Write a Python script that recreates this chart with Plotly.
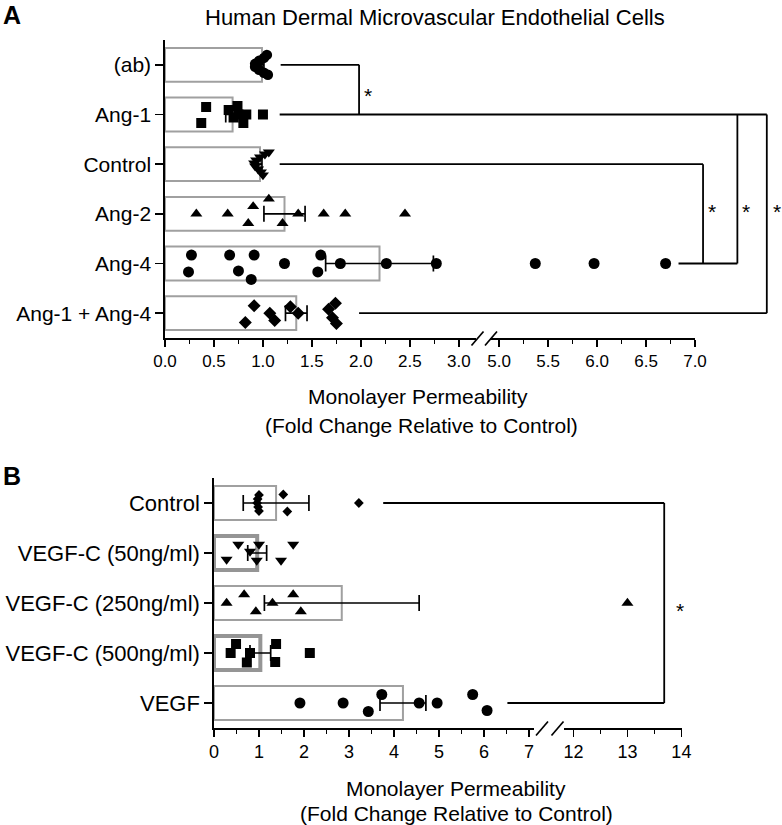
import plotly.graph_objects as go

W, H = 782, 825
FONT = "Liberation Sans, Arial, Helvetica, sans-serif"

# ---------------- Panel A data ----------------
a_categories = ["(ab)", "Ang-1", "Control", "Ang-2", "Ang-4", "Ang-1 + Ang-4"]
a_means = [0.99, 0.69, 0.97, 1.22, 2.19, 1.34]
a_sems = [0.02, 0.07, 0.02, 0.21, 0.55, 0.11]
a_symbols = ["circle", "square", "triangle-down", "triangle-up", "circle", "diamond"]

a_ab_vals = [1.04, 1.01, 0.96, 0.92, 0.92, 0.96, 1.01, 1.05]
a_ab_offs = [-0.20, -0.14, -0.08, -0.02, 0.04, 0.10, 0.16, 0.20]
a_ang1_vals = [0.42, 0.37, 0.65, 0.74, 0.70, 0.80, 0.83, 1.00, 0.75]
a_ang1_offs = [-0.15, 0.17, -0.09, -0.17, 0.06, 0.17, 0.00, 0.00, 0.00]
a_ctrl_vals = [1.06, 1.02, 0.97, 0.93, 0.91, 0.92, 0.95, 0.98, 1.00]
a_ctrl_offs = [-0.24, -0.20, -0.14, -0.08, -0.02, 0.04, 0.10, 0.16, 0.22]
a_ang2_vals = [0.32, 0.64, 0.90, 0.85, 1.06, 1.20, 1.36, 1.62, 1.84, 2.45]
a_ang2_offs = [0.00, 0.00, -0.15, 0.19, -0.30, 0.19, 0.00, 0.00, 0.00, 0.00]
a_ang4_vals = [0.27, 0.24, 0.66, 0.75, 0.91, 0.88, 1.22, 1.59, 1.56, 1.79, 2.26, 2.77, 5.37, 5.97, 6.70]
a_ang4_offs = [-0.17, 0.17, -0.17, 0.15, -0.17, 0.32, 0.00, -0.17, 0.17, 0.00, 0.00, 0.00, 0.00, 0.00, 0.00]
a_combo_vals = [0.91, 0.82, 1.07, 1.12, 1.28, 1.36, 1.67, 1.74, 1.71, 1.75]
a_combo_offs = [-0.15, 0.19, 0.00, 0.15, -0.13, 0.00, -0.08, -0.20, 0.09, 0.21]

a_points = [(a_ab_vals, a_ab_offs), (a_ang1_vals, a_ang1_offs), (a_ctrl_vals, a_ctrl_offs),
            (a_ang2_vals, a_ang2_offs), (a_ang4_vals, a_ang4_offs), (a_combo_vals, a_combo_offs)]

a_left_ticks = [0.0, 0.5, 1.0, 1.5, 2.0, 2.5, 3.0]
a_right_ticks = [5.0, 5.5, 6.0, 6.5, 7.0]

# ---------------- Panel B data ----------------
b_categories = ["Control", "VEGF-C (50ng/ml)", "VEGF-C (250ng/ml)", "VEGF-C (500ng/ml)", "VEGF"]
b_means = [1.38, 0.96, 2.84, 1.03, 4.20]
b_sems = [0.73, 0.21, 1.72, 0.23, 0.51]
b_symbols = ["diamond", "triangle-down", "triangle-up", "square", "circle"]

b_ctrl_vals = [1.00, 0.97, 0.96, 0.98, 1.00, 1.54, 1.63, 3.22]
b_ctrl_offs = [-0.16, -0.08, 0.00, 0.08, 0.16, -0.17, 0.17, 0.00]
b_c50_vals = [0.54, 0.28, 0.80, 1.00, 0.95, 1.49, 1.76]
b_c50_offs = [-0.17, 0.13, -0.03, -0.17, 0.15, 0.15, -0.17]
b_c250_vals = [0.28, 0.67, 0.93, 1.30, 1.76, 1.93, 13.0]
b_c250_offs = [0.00, -0.17, 0.17, 0.00, -0.17, 0.17, 0.00]
b_c500_vals = [0.49, 0.37, 0.80, 0.73, 1.38, 1.36, 2.13]
b_c500_offs = [-0.18, 0.00, 0.00, 0.19, -0.18, 0.18, 0.00]
b_vegf_vals = [1.91, 2.87, 3.43, 3.73, 4.56, 4.96, 5.75, 6.07]
b_vegf_offs = [0.00, 0.00, 0.17, -0.17, 0.00, 0.00, -0.17, 0.15]

b_points = [(b_ctrl_vals, b_ctrl_offs), (b_c50_vals, b_c50_offs), (b_c250_vals, b_c250_offs),
            (b_c500_vals, b_c500_offs), (b_vegf_vals, b_vegf_offs)]

b_left_ticks = [0, 1, 2, 3, 4, 5, 6, 7]
b_right_ticks = [12, 13, 14]

# significance brackets: (axis0, x0, axis1, x1, cat0, cat1)
a_brackets = [("x", 1.18, "x", 1.98, 0, 0), ("x", 1.98, "x", 1.98, 0, 1),
              ("x", 1.17, "x2", 7.73, 1, 1), ("x", 1.17, "x2", 7.08, 2, 2),
              ("x2", 7.08, "x2", 7.08, 2, 4), ("x2", 6.83, "x2", 7.43, 4, 4),
              ("x2", 7.43, "x2", 7.43, 1, 4), ("x", 1.98, "x2", 7.73, 5, 5),
              ("x2", 7.73, "x2", 7.73, 1, 5)]
a_stars = [("x", 2.07, 0.52), ("x2", 7.17, 2.86), ("x2", 7.52, 2.86), ("x2", 7.83, 2.86)]
b_brackets = [("x3", 3.76, "x4", 13.68, 0, 0), ("x3", 6.52, "x4", 13.68, 4, 4),
              ("x4", 13.68, "x4", 13.68, 0, 4)]
b_stars = [("x4", 13.98, 2.05)]

# ---------------- layout geometry (pixels) ----------------
AX = {
    "x": dict(domain=[165 / W, 475.7 / W], range=[0, 3.17]),
    "x2": dict(domain=[490.2 / W, 695.2 / W], range=[4.91, 7.0]),
    "x3": dict(domain=[214 / W, 533.5 / W], range=[0, 7.1]),
    "x4": dict(domain=[564.3 / W, 681.5 / W], range=[11.83, 14.0]),
}
Y_A = dict(domain=[1 - 338 / H, 1 - 40 / H], range=[5.5, -0.5])
Y_B = dict(domain=[1 - 728 / H, 1 - 478 / H], range=[4.5, -0.5])


def xp(ax, v):
    d, r = AX[ax]["domain"], AX[ax]["range"]
    return d[0] + (v - r[0]) / (r[1] - r[0]) * (d[1] - d[0])


fig = go.Figure()


def add_panel(cats, means, sems, symbols, points, xl, xr, yref, sizes, bar_lines):
    yname = "y" if yref == "y" else "y2"
    n = len(cats)
    idx = list(range(n))
    fig.add_trace(go.Bar(
        x=means, y=idx, orientation="h", width=0.68, base=0,
        marker=dict(color="white", line=dict(color=[c for c, w in bar_lines], width=[w for c, w in bar_lines])),
        xaxis=xl, yaxis=yname, hoverinfo="skip"))
    lim = AX[xl]["range"][1]
    for i, (vals, offs) in enumerate(points):
        for side, ax in (("L", xl), ("R", xr)):
            xs = [v for v in vals if (v <= lim) == (side == "L")]
            ys = [i + o for v, o in zip(vals, offs) if (v <= lim) == (side == "L")]
            if not xs:
                continue
            fig.add_trace(go.Scatter(
                x=xs, y=ys, mode="markers", xaxis=ax, yaxis=yname,
                marker=dict(symbol=symbols[i], size=sizes[i], color="black", line=dict(width=0)),
                hoverinfo="skip"))
    fig.add_trace(go.Scatter(
        x=means, y=idx, mode="markers", xaxis=xl, yaxis=yname,
        marker=dict(size=2, color="rgba(0,0,0,0)"),
        error_x=dict(type="data", array=sems, color="black", thickness=1.7, width=8),
        hoverinfo="skip"))


add_panel(a_categories, a_means, a_sems, a_symbols, a_points, "x", "x2", "y",
          [10.5, 10, 10.5, 10.5, 11, 10], [("#a0a0a0", 2)] * 6)
add_panel(b_categories, b_means, b_sems, b_symbols, b_points, "x3", "x4", "y2",
          [7.5, 10.5, 10.5, 10, 11],
          [("#a0a0a0", 2), ("#959595", 4), ("#a0a0a0", 2), ("#959595", 4), ("#a0a0a0", 2)])

shapes = []
annotations = []
LINE = dict(color="black", width=1.8)
for brs, yref in ((a_brackets, "y"), (b_brackets, "y2")):
    for a0, x0, a1, x1, c0, c1 in brs:
        shapes.append(dict(type="line", xref="paper", yref=yref,
                           x0=xp(a0, x0), x1=xp(a1, x1), y0=c0, y1=c1, line=LINE))
for sts, yref in ((a_stars, "y"), (b_stars, "y2")):
    for a, xv, yv in sts:
        annotations.append(dict(text="*", xref="paper", yref=yref, x=xp(a, xv), y=yv,
                                showarrow=False, xanchor="center", yanchor="middle", yshift=-5,
                                font=dict(family=FONT, size=21, color="black")))


def px(x, y):
    return x / W, 1 - y / H


# axis break marks
for cx, cy in ((477.5, 338.5), (491.0, 338.5), (542.0, 728.5), (557.5, 728.5)):
    (x0, y0), (x1, y1) = px(cx - 6, cy + 7), px(cx + 6, cy - 7)
    shapes.append(dict(type="line", xref="paper", yref="paper", x0=x0, y0=y0, x1=x1, y1=y1,
                       line=dict(color="black", width=1.7)))


def text(t, x, y, size, bold=False, xanchor="center"):
    xx, yy = px(x, y)
    annotations.append(dict(text=("<b>%s</b>" % t) if bold else t, xref="paper", yref="paper",
                            x=xx, y=yy, showarrow=False, xanchor=xanchor, yanchor="middle",
                            font=dict(family=FONT, size=size, color="black")))


text("A", 1, 15, 25, bold=True, xanchor="left")
text("B", 1, 476, 25, bold=True, xanchor="left")
text("Human Dermal Microvascular Endothelial Cells", 435, 17, 22)
text("Monolayer Permeability", 418, 396, 21)
text("(Fold Change Relative to Control)", 421, 425, 21)
text("Monolayer Permeability", 456, 788, 21)
text("(Fold Change Relative to Control)", 456, 813, 21)


def xaxis(ax, anchor, ticks, fmt, minor, fsize):
    r = list(AX[ax]["range"])
    r[1] += 0.002
    return dict(domain=AX[ax]["domain"], range=r, anchor=anchor, showline=True, linecolor="black",
                linewidth=1.7, ticks="outside", ticklen=7, tickwidth=1.7, tickcolor="black",
                tickmode="array", tickvals=ticks, ticktext=[fmt % t for t in ticks],
                minor=dict(dtick=minor, tick0=0, ticks="outside", ticklen=4, tickwidth=1.5,
                           tickcolor="black", showgrid=False),
                showgrid=False, zeroline=False, fixedrange=True,
                tickfont=dict(family=FONT, size=fsize, color="black"))


def yaxis(spec, anchor, cats, fsize):
    return dict(domain=spec["domain"], range=spec["range"], anchor=anchor, showline=True,
                linecolor="black", linewidth=1.7, ticks="outside", ticklen=8, tickwidth=1.7,
                tickcolor="black", tickmode="array", tickvals=list(range(len(cats))), ticktext=cats,
                showgrid=False, zeroline=False, fixedrange=True,
                tickfont=dict(family=FONT, size=fsize, color="black"))


fig.update_layout(
    width=W, height=H, margin=dict(l=0, r=0, t=0, b=0, autoexpand=False),
    paper_bgcolor="white", plot_bgcolor="white", showlegend=False, barmode="overlay",
    hovermode=False,
    xaxis=xaxis("x", "y", a_left_ticks, "%.1f", 0.25, 17),
    xaxis2=xaxis("x2", "y", a_right_ticks, "%.1f", 0.25, 17),
    xaxis3=xaxis("x3", "y2", b_left_ticks, "%d", 0.5, 18),
    xaxis4=xaxis("x4", "y2", b_right_ticks, "%d", 0.5, 18),
    yaxis=yaxis(Y_A, "x", a_categories, 21),
    yaxis2=yaxis(Y_B, "x3", b_categories, 22),
    shapes=shapes, annotations=annotations,
)

fig.write_html("out.html", config={"displayModeBar": False, "staticPlot": True},
               post_script="document.body.style.margin='0';document.body.style.overflow='hidden';")
